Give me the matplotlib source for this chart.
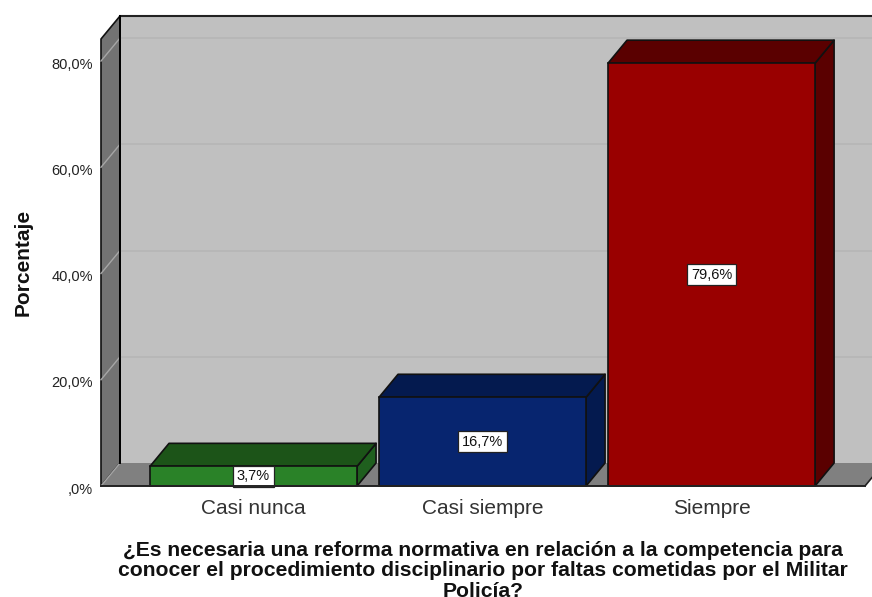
import matplotlib
matplotlib.use('Agg')
from matplotlib import pyplot as plt
from matplotlib.patches import Polygon
from matplotlib.transforms import ScaledTranslation

plt.rcParams['font.family'] = ['Liberation Sans', 'DejaVu Sans']

categories = ['Casi nunca', 'Casi siempre', 'Siempre']
values = [3.7, 16.7, 79.6]
value_labels = ['3,7%', '16,7%', '79,6%']
y_ticks = [0, 20, 40, 60, 80]
y_tick_labels = [',0%', '20,0%', '40,0%', '60,0%', '80,0%']

front_colors = ['#2A8228', '#07256F', '#990000']
top_colors = ['#1C5418', '#041A4F', '#5A0000']
side_colors = ['#1F5F1E', '#041A4F', '#5A0000']

W, H = 872, 597
xmin, xmax = -0.666, 2.67
ymax = 84.15
bar_w = 0.904
# depth of the fake 3d box, in data units
dx = 0.083
dy = 4.33

fig = plt.figure(figsize=(W / 100, H / 100), dpi=100)
ax = fig.add_axes([101 / W, (H - 486) / H, 764 / W, 447 / H])
ax.set_xlim(xmin, xmax)
ax.set_ylim(0, ymax)
for s in ax.spines.values():
    s.set_visible(False)
ax.patch.set_visible(False)


def poly(pts, fc, z, ec='#111111', lw=1.2):
    ax.add_patch(Polygon(pts, closed=True, facecolor=fc, edgecolor=ec, linewidth=lw,
                         zorder=z, clip_on=False, joinstyle='round'))


# walls and floor
poly([(xmin + dx, dy), (xmax + dx, dy), (xmax + dx, ymax + dy), (xmin + dx, ymax + dy)], '#C0C0C0', 1, ec='none')
poly([(xmin, 0), (xmin + dx, dy), (xmin + dx, ymax + dy), (xmin, ymax)], '#737373', 1)
poly([(xmin, 0), (xmax, 0), (xmax + dx, dy), (xmin + dx, dy)], '#808080', 1, ec='none')
ax.plot([xmin + dx, xmax + dx], [ymax + dy, ymax + dy], color='#222222', lw=1.5, zorder=3, clip_on=False)
ax.plot([xmin + dx, xmin + dx], [dy, ymax + dy], color='#000000', lw=1.4, zorder=3, clip_on=False)
ax.plot([xmax, xmax + dx], [0, dy], color='#222222', lw=1.2, zorder=3, clip_on=False)

# gridlines
for t in y_ticks:
    if t > 0:
        ax.plot([xmin + dx, xmax + dx], [t + dy, t + dy], color='#B6B6B6', lw=1.2, zorder=2, clip_on=False)
    ax.plot([xmin, xmin + dx], [t, t + dy], color='#A6A6A6', lw=1.0, zorder=2, clip_on=False)

# bars
for i, v in enumerate(values):
    l, r = i - bar_w / 2, i + bar_w / 2
    poly([(r, 0), (r + dx, dy), (r + dx, v + dy), (r, v)], side_colors[i], 4)
    poly([(l, v), (r, v), (r + dx, v + dy), (l + dx, v + dy)], top_colors[i], 4)
ax.bar(range(3), values, width=bar_w, color=front_colors, edgecolor='#111111', linewidth=1.2, zorder=5, clip_on=False)

for i, v in enumerate(values):
    ax.text(i, v / 2, value_labels[i], ha='center', va='center', fontsize=10.5, color='#111111', zorder=6,
            bbox=dict(boxstyle='square,pad=0.25', facecolor='white', edgecolor='#222222', linewidth=0.9))

ax.plot([xmin, xmax], [0, 0], color='#222222', lw=1.4, zorder=6, clip_on=False)

ax.set_xticks(range(3))
ax.set_xticklabels(categories, fontsize=15, color='#333333')
ax.set_yticks(y_ticks)
ax.set_yticklabels(y_tick_labels, fontsize=10.5, color='#222222')
ax.tick_params(axis='both', length=0)
ax.tick_params(axis='x', pad=9)
ax.tick_params(axis='y', pad=6)
# the y labels sit a little under their gridlines
shift = ScaledTranslation(0, -2 / 100, fig.dpi_scale_trans)
for lab in ax.get_yticklabels():
    lab.set_transform(lab.get_transform() + shift)

fig.text(23 / W, 1 - 262 / H, 'Porcentaje', rotation=90, ha='center', va='center', fontsize=15, fontweight='bold', color='#111111')
fig.text(483 / W, 1 - 571 / H,
         '¿Es necesaria una reforma normativa en relación a la competencia para\n'
         'conocer el procedimiento disciplinario por faltas cometidas por el Militar\n'
         'Policía?',
         ha='center', va='center', fontsize=15.2, fontweight='bold', color='#111111', linespacing=1.07)

fig.savefig('out.png', dpi=100)
